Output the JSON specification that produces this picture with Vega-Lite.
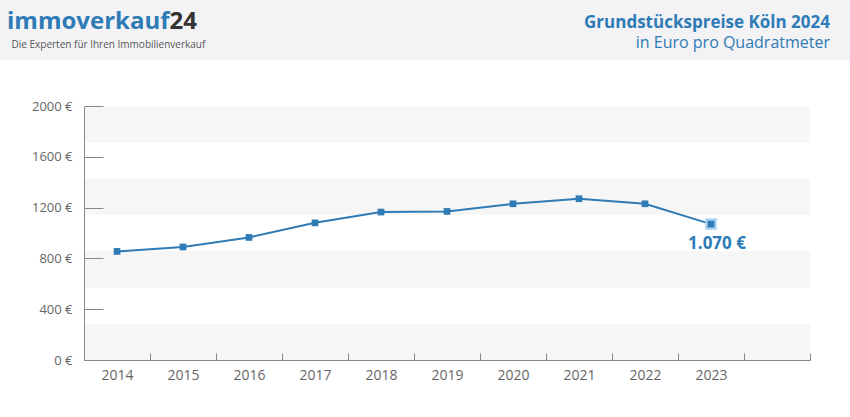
{
  "$schema": "https://vega.github.io/schema/vega-lite/v6.json",
  "width": 850,
  "height": 417,
  "padding": 0,
  "autosize": {"type": "none"},
  "background": "#ffffff",
  "config": {
    "view": {"stroke": null, "fill": {"gradient": "linear", "x1": 0, "y1": 0, "x2": 0, "y2": 1, "stops": [{"offset": 0, "color": "#f3f3f5"}, {"offset": 0.1439, "color": "#f3f3f5"}, {"offset": 0.1440, "color": "#ffffff"}, {"offset": 1, "color": "#ffffff"}]}},
    "locale": {"number": {"decimal": ",", "thousands": ".", "grouping": [3], "currency": ["", " €"]}},
    "font": "Open Sans"
  },
  "title": {
    "text": "Grundstückspreise Köln 2024",
    "subtitle": "in Euro pro Quadratmeter",
    "anchor": "end",
    "frame": "group",
    "orient": "top",
    "offset": -52,
    "dx": -20,
    "fontSize": 17,
    "fontWeight": "bold",
    "color": "#2e7bb6",
    "subtitleFontSize": 16,
    "subtitleColor": "#2e7bb6",
    "subtitlePadding": 3
  },
  "datasets": {
    "prices": [
      {"year": "2014", "price": 855},
      {"year": "2015", "price": 890},
      {"year": "2016", "price": 965},
      {"year": "2017", "price": 1080},
      {"year": "2018", "price": 1165},
      {"year": "2019", "price": 1170},
      {"year": "2020", "price": 1230},
      {"year": "2021", "price": 1270},
      {"year": "2022", "price": 1230},
      {"year": "2023", "price": 1070}
    ],
    "stripes": [
      {"lo": 0, "hi": 285.7, "x0": 0, "x1": 1},
      {"lo": 571.4, "hi": 857.1, "x0": 0, "x1": 1},
      {"lo": 1142.9, "hi": 1428.6, "x0": 0, "x1": 1},
      {"lo": 1714.3, "hi": 2000, "x0": 0, "x1": 1}
    ]
  },
  "layer": [
    {
      "data": {"name": "stripes"},
      "mark": {"type": "rect", "color": "#f6f6f6"},
      "encoding": {
        "x": {"field": "x0", "type": "quantitative", "scale": {"domain": [0, 1], "range": [84, 810]}, "axis": null},
        "x2": {"field": "x1"},
        "y": {"field": "lo", "type": "quantitative", "scale": {"domain": [0, 2000], "range": [360, 106]},
          "axis": {"orient": "left", "offset": 0, "domain": false, "ticks": false, "labels": false, "grid": false,
            "title": "24", "titleX": 169, "titleY": 21, "titleAngle": 0, "titleAlign": "left", "titleBaseline": "middle",
            "titleFontSize": 24, "titleFontWeight": "bold", "titleColor": "#333333"}},
        "y2": {"field": "hi"}
      }
    },
    {
      "data": {"name": "prices"},
      "encoding": {
        "x": {"field": "year", "type": "ordinal",
          "scale": {"type": "band", "domain": ["2014", "2015", "2016", "2017", "2018", "2019", "2020", "2021", "2022", "2023", "2024"], "range": [84, 810], "paddingInner": 0, "paddingOuter": 0},
          "axis": {"orient": "bottom", "offset": -57, "zindex": 1, "tickBand": "extent", "tickSize": -7, "tickColor": "#888888", "domainColor": "#888888",
            "labelColor": "#666666", "labelFontSize": 14, "labelPadding": 15, "labelAngle": 0, "grid": false,
            "labelExpr": "datum.value == '2024' ? '' : datum.value",
            "title": "Die Experten für Ihren Immobilienverkauf", "titleX": 11, "titleY": -316, "titleAlign": "left", "titleBaseline": "middle",
            "titleFontSize": 10, "titleFontWeight": "normal", "titleColor": "#555555"}},
        "y": {"field": "price", "type": "quantitative",
          "axis": {"orient": "left", "offset": -84, "zindex": 1, "values": [0, 400, 800, 1200, 1600, 2000], "format": "$.0f", "tickSize": -19,
            "tickColor": "#888888", "domainColor": "#888888", "labelColor": "#666666", "labelFontSize": 13, "labelPadding": 31, "grid": false,
            "title": "immoverkauf", "titleX": 85, "titleY": 21, "titleAngle": 0, "titleAlign": "right", "titleBaseline": "middle",
            "titleFontSize": 24, "titleFontWeight": "bold", "titleColor": "#2e7bb6"}}
      },
      "layer": [
        {"mark": {"type": "line", "color": "#2e7bb6", "strokeWidth": 2}},
        {"transform": [{"filter": "datum.year == '2023'"}], "mark": {"type": "point", "shape": "square", "filled": true, "size": 130, "color": "#a9d0ee", "opacity": 1}},
        {"mark": {"type": "point", "shape": "square", "filled": true, "size": 45, "color": "#2e7bb6", "opacity": 1}},
        {"transform": [{"filter": "datum.year == '2023'"}], "mark": {"type": "text", "dx": 6, "dy": 20, "fontSize": 17, "fontWeight": "bold", "color": "#2e7bb6"},
          "encoding": {"text": {"field": "price", "type": "quantitative", "format": "$,.0f"}}}
      ]
    }
  ],
  "resolve": {"scale": {"x": "independent"}, "axis": {"y": "independent"}}
}
